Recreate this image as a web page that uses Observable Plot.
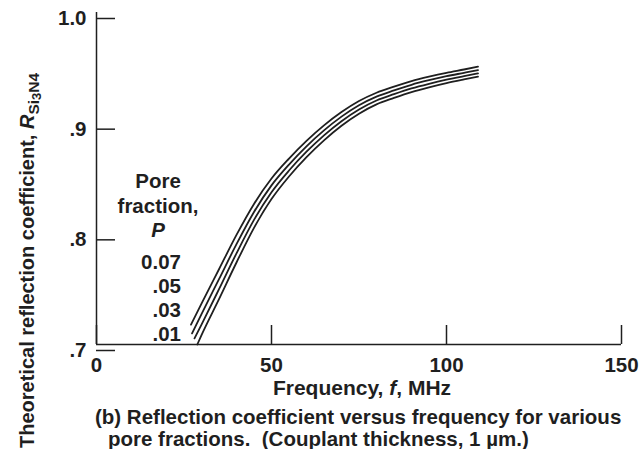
<!DOCTYPE html>
<html>
<head>
<meta charset="utf-8">
<script src="https://cdn.jsdelivr.net/npm/d3@7"></script>
<script src="https://cdn.jsdelivr.net/npm/@observablehq/plot@0.6"></script>
<style>
  body { margin: 0; background: #fff; }
  #chart svg text { white-space: pre; }
</style>
</head>
<body>
<div id="chart"></div>
<script>
// Theoretical reflection coefficient of Si3N4 vs. frequency, one curve per pore fraction
const poreLabels = ["0.07", ".05", ".03", ".01"];

const freqP07 = [27, 30, 35, 40, 45, 50, 55, 60, 65, 70, 75, 80, 85, 90, 95, 100, 105, 109];
const reflP07 = [0.718, 0.737, 0.768, 0.799, 0.827, 0.850, 0.868, 0.884, 0.898, 0.910, 0.920, 0.9275, 0.933, 0.938, 0.942, 0.9455, 0.9485, 0.951];

const freqP05 = [27.3, 30, 35, 40, 45, 50, 55, 60, 65, 70, 75, 80, 85, 90, 95, 100, 105, 109];
const reflP05 = [0.710, 0.7275, 0.759, 0.7907, 0.8198, 0.8438, 0.8626, 0.8791, 0.8935, 0.9059, 0.9162, 0.924, 0.9296, 0.9347, 0.9388, 0.9424, 0.9455, 0.948];

const freqP03 = [28, 30, 35, 40, 45, 50, 55, 60, 65, 70, 75, 80, 85, 90, 95, 100, 105, 109];
const reflP03 = [0.7055, 0.718, 0.750, 0.7824, 0.8126, 0.8376, 0.8572, 0.8742, 0.889, 0.9018, 0.9124, 0.9205, 0.9262, 0.9314, 0.9356, 0.9393, 0.9425, 0.945];

const freqP01 = [28.8, 30, 35, 40, 45, 50, 55, 60, 65, 70, 75, 80, 85, 90, 95, 100, 105, 109];
const reflP01 = [0.700, 0.7085, 0.741, 0.7741, 0.8054, 0.8314, 0.8518, 0.8693, 0.8845, 0.8977, 0.9086, 0.917, 0.9228, 0.9281, 0.9324, 0.9362, 0.9395, 0.942];

const xTicks = [0, 50, 100, 150];
const yTicks = [0.7, 0.8, 0.9, 1.0];
const yTickLabels = [".7", ".8", ".9", "1.0"];

const series = [
  [poreLabels[0], freqP07, reflP07],
  [poreLabels[1], freqP05, reflP05],
  [poreLabels[2], freqP03, reflP03],
  [poreLabels[3], freqP01, reflP01]
];
const rows = series.flatMap(([p, fs, rs]) => fs.map((f, i) => ({p, f, r: rs[i]})));

const FONT = "'Liberation Sans', Arial, Helvetica, sans-serif";
const INK = "#1f1f1f";

const chart = Plot.plot({
  width: 641,
  height: 449,
  marginTop: 12,
  marginBottom: 105,
  marginLeft: 96,
  marginRight: 20,
  style: {fontFamily: FONT, fontSize: "20.5px", fontWeight: "bold", color: INK, background: "#fff"},
  x: {domain: [0, 150], label: null},
  y: {domain: [0.7, 1.0], label: null},
  marks: [
    Plot.axisY(yTicks, {
      tickSize: -19, tickPadding: 29, strokeWidth: 1.5, dy: 6,
      tickFormat: d => yTickLabels[yTicks.indexOf(d)]
    }),
    Plot.axisX(xTicks, {tickSize: -19, tickPadding: 32, strokeWidth: 1.5, tickFormat: d => String(d)}),
    Plot.ruleX([0], {strokeWidth: 1.5, stroke: INK}),
    Plot.ruleY([0.7], {strokeWidth: 1.5, stroke: INK}),
    Plot.line(rows, {x: "f", y: "r", z: "p", curve: "monotone-x", stroke: INK, strokeWidth: 1.8})
  ]
});

document.getElementById("chart").appendChild(chart);

// Titles, legend and caption with mixed italic / subscript runs
const svg = d3.select(chart);
const g = svg.append("g")
  .attr("font-family", FONT)
  .attr("font-weight", "bold")
  .attr("font-size", 20.5)
  .attr("text-anchor", "start")
  .attr("fill", INK);

// y-axis title
const yt = g.append("text").attr("font-size", 20).attr("transform", "translate(34,448) rotate(-90)");
yt.append("tspan").text("Theoretical reflection coefficient, ");
yt.append("tspan").attr("font-style", "italic").text("R");
yt.append("tspan").attr("font-size", 15.5).attr("dy", 5).text("Si");
yt.append("tspan").attr("font-size", 13).attr("dy", 2).text("3");
yt.append("tspan").attr("font-size", 15.5).attr("dy", -2).text("N");
yt.append("tspan").attr("font-size", 15.5).text("4");

// x-axis title
const xt = g.append("text").attr("font-size", 21).attr("x", 362).attr("y", 395).attr("text-anchor", "middle");
xt.append("tspan").text("Frequency, ");
xt.append("tspan").attr("font-style", "italic").text("f");
xt.append("tspan").text(", MHz");

// pore-fraction key
g.append("text").attr("x", 158).attr("y", 188).attr("text-anchor", "middle").text("Pore");
g.append("text").attr("x", 158).attr("y", 213).attr("text-anchor", "middle").text("fraction,");
g.append("text").attr("x", 158).attr("y", 237).attr("text-anchor", "middle").attr("font-style", "italic").text("P");
g.selectAll("text.pore").data(poreLabels).join("text")
  .attr("class", "pore")
  .attr("x", 181)
  .attr("y", (d, i) => 269 + i * 24)
  .attr("text-anchor", "end")
  .text(d => d);

// caption
g.append("text").attr("x", 95).attr("y", 424).text("(b) Reflection coefficient versus frequency for various");
g.append("text").attr("x", 108).attr("y", 446).text("pore fractions.  (Couplant thickness, 1 µm.)");
</script>
</body>
</html>
